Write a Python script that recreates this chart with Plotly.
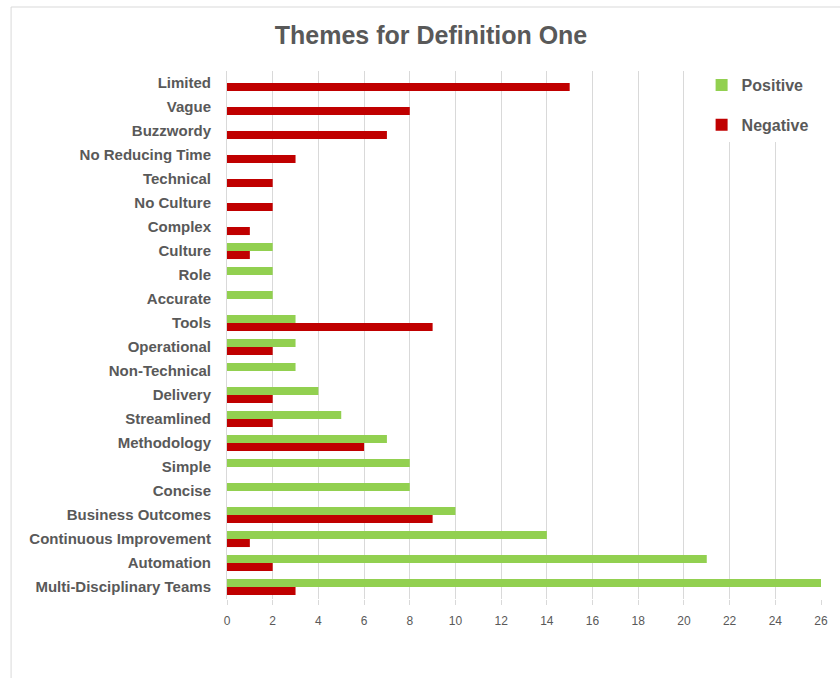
import plotly.graph_objects as go

categories = ["Limited", "Vague", "Buzzwordy", "No Reducing Time", "Technical", "No Culture",
              "Complex", "Culture", "Role", "Accurate", "Tools", "Operational", "Non-Technical",
              "Delivery", "Streamlined", "Methodology", "Simple", "Concise", "Business Outcomes",
              "Continuous Improvement", "Automation", "Multi-Disciplinary Teams"]
positive = [0, 0, 0, 0, 0, 0, 0, 2, 2, 2, 3, 3, 3, 4, 5, 7, 8, 8, 10, 14, 21, 26]
negative = [15, 8, 7, 3, 2, 2, 1, 1, 0, 0, 9, 2, 0, 2, 2, 6, 0, 0, 9, 1, 2, 3]
x_ticks = list(range(0, 27, 2))

W, H = 840, 678
L, R, T, B = 227, 16, 71, 79
pw, ph = W - L - R, H - T - B

fig = go.Figure()
fig.add_trace(go.Bar(y=categories, x=positive, name="<b>Positive</b>", orientation="h",
                     marker=dict(color="#92D050", line=dict(width=0)), legendgroup="p"))
fig.add_trace(go.Bar(y=categories, x=negative, name="<b>Negative</b>", orientation="h",
                     marker=dict(color="#C00000", line=dict(width=0)), legendgroup="n"))

grey = "#595959"
fig.update_layout(
    width=W, height=H,
    margin=dict(l=L, r=R, t=T, b=B),
    paper_bgcolor="white", plot_bgcolor="white",
    barmode="group", bargap=0.33, bargroupgap=0,
    font=dict(family="Liberation Sans, Arial, sans-serif", color=grey),
    title=dict(text="<b>Themes for Definition One</b>", x=(431) / W, xanchor="center",
               y=1 - 35 / H, yanchor="middle",
               font=dict(size=25, color=grey, family="Liberation Sans, Arial, sans-serif")),
    legend=dict(x=(704 - L) / pw, y=1 + 3 / ph, xanchor="left", yanchor="top",
                bgcolor="white", traceorder="grouped", tracegroupgap=16,
                font=dict(size=16, color=grey, family="Liberation Sans, Arial, sans-serif"),
                itemwidth=30),
    showlegend=True,
    xaxis=dict(range=[0, 26], tickvals=x_ticks, showgrid=True, gridcolor="#d9d9d9", gridwidth=1,
               zeroline=False, ticks="outside", ticklen=5, tickcolor="#d9d9d9",
               tickfont=dict(size=12, color=grey), ticklabelstandoff=6, fixedrange=True),
    yaxis=dict(categoryorder="array", categoryarray=categories, autorange="reversed",
               showline=True, linecolor="#d9d9d9", linewidth=1, showgrid=False,
               tickfont=dict(size=15, color=grey, family="Liberation Sans, Arial, sans-serif"),
               ticklabelstandoff=12, tickprefix="<b>", ticksuffix="</b>"),
)

# outer chart border (top and left visible)
fig.add_shape(type="line", xref="paper", yref="paper",
              x0=(10 - L) / pw, x1=(W + 5 - L) / pw, y0=(H - B - 7) / ph, y1=(H - B - 7) / ph,
              line=dict(color="#d9d9d9", width=1))
fig.add_shape(type="line", xref="paper", yref="paper",
              x0=(10 - L) / pw, x1=(10 - L) / pw, y0=(H - B - 7) / ph, y1=-(B + 5) / ph,
              line=dict(color="#d9d9d9", width=1))

fig.write_html("out.html")
